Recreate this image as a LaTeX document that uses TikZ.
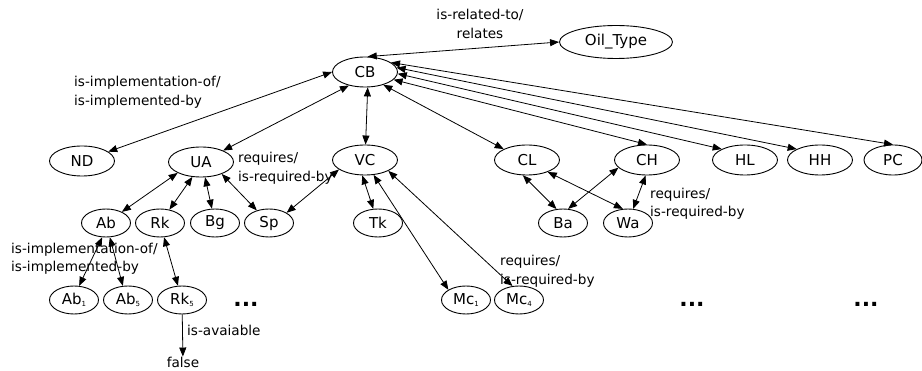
\documentclass[tikz,border=0pt]{standalone}
\usepackage{fontspec}
\setmainfont{DejaVu Sans}
\usetikzlibrary{arrows.meta,shapes.geometric}
\newcommand{\tinysub}[1]{\raisebox{-1.5pt}{\fontsize{7}{7}\selectfont #1}}
\tikzset{
  big/.style={ellipse,draw,line width=0.9pt,inner sep=0pt,minimum width=65pt,minimum height=30pt,font=\fontsize{15}{15}\selectfont},
  small/.style={ellipse,draw,line width=0.9pt,inner sep=0pt,minimum width=49pt,minimum height=28pt,font=\fontsize{15}{15}\selectfont},
  lbl/.style={inner sep=0pt,font=\fontsize{13.6}{18.5}\selectfont},
  dots/.style={inner sep=0pt,font=\fontsize{22}{22}\selectfont\bfseries},
  rel/.style={line width=0.8pt,{Triangle[length=9pt,width=7pt]}-{Triangle[length=9pt,width=7pt]}},
  onedir/.style={line width=0.8pt,-{Triangle[length=9pt,width=7pt]}}
}
\begin{document}
\begin{tikzpicture}[x=1pt,y=-1pt]
\useasboundingbox (0,0) rectangle (922,371);
% top
\node[big] (CB) at (365,72) {CB};
\node[big,minimum width=113pt,minimum height=33pt] (Oil) at (616,42) {Oil\_Type};
% row 1
\node[big] (ND) at (82,161) {ND};
\node[big] (UA) at (201,162) {UA};
\node[big] (VC) at (365,160) {VC};
\node[big] (CL) at (527,160) {CL};
\node[big] (CH) at (647,160) {CH};
\node[big] (HL) at (745,160) {HL};
\node[big] (HH) at (820,160) {HH};
\node[big,minimum width=58pt] (PC) at (893,160) {PC};
% row 2
\node[small] (Ab) at (106,223) {Ab};
\node[small] (Rk) at (160,223) {Rk};
\node[small] (Bg) at (215,223) {Bg};
\node[small] (Sp) at (269,223) {Sp};
\node[small] (Tk) at (378,223) {Tk};
\node[small] (Ba) at (563,223) {Ba};
\node[small] (Wa) at (628,223) {Wa};
% row 3
\node[small] (Ab1) at (74,300) {Ab\tinysub{1}};
\node[small] (Ab5) at (128,300) {Ab\tinysub{5}};
\node[small] (Rk5) at (182,300) {Rk\tinysub{5}};
\node[small] (Mc1) at (466,300) {Mc\tinysub{1}};
\node[small] (Mc4) at (519,300) {Mc\tinysub{4}};
\node[dots,anchor=base] (d1) at (246,307) {...};
\node[dots,anchor=base] (d2) at (692,307) {...};
\node[dots,anchor=base] (d3) at (866,307) {...};
\node[lbl] (false) at (183,362) {false};
% labels
\node[lbl,align=center] (l1) at (480,24) {is-related-to/\\relates};
\node[lbl,align=left,anchor=west] (l2) at (74,92.5) {is-implementation-of/\\is-implemented-by};
\node[lbl,align=left,anchor=west] (l3) at (238,168.5) {requires/\\is-required-by};
\node[lbl,align=left,anchor=west] (l4) at (11,259) {is-implementation-of/\\is-implemented-by};
\node[lbl,align=left,anchor=west] (l5) at (650,204) {requires/\\is-required-by};
\node[lbl,align=left,anchor=west] (l6) at (500,271) {requires/\\is-required-by};
\node[lbl,anchor=west] (l7) at (187,330) {is-avaiable};
% edges from CB
\draw[rel] (CB.80) -- (Oil.west);
\draw[rel] (CB.west) -- (ND);
\draw[rel] (CB.-140) -- (UA);
\draw[rel] (CB.-80) -- (VC);
\draw[rel] (CB.-35) -- (CL.north west);
\draw[rel] (CB.-15) -- (CH.north);
\draw[rel] (CB.-3) -- (HL.north west);
\draw[rel] (CB.8) -- (HH.north west);
\draw[rel] (CB.20) -- (PC.north);
% UA children
\draw[rel] (UA.-155) -- (Ab);
\draw[rel] (UA.-120) -- (Rk);
\draw[rel] (UA.-75) -- (Bg);
\draw[rel] (UA.-30) -- (Sp);
% VC children
\draw[rel] (VC.-160) -- (Sp.north east);
\draw[rel] (VC.-100) -- (Tk);
\draw[rel] (VC.-60) -- (Mc1.north west);
\draw[rel] (VC.-25) -- (Mc4.115);
% CL/CH children
\draw[rel] (CL.-105) -- (Ba.115);
\draw[rel] (CH.-165) -- (Ba.70);
\draw[rel] (CL.-30) -- (Wa.110);
\draw[rel] (CH.-95) -- (Wa.70);
% row 3
\draw[rel] (Ab.-105) -- (Ab1.70);
\draw[rel] (Ab.-75) -- (Ab5.110);
\draw[rel] (Rk) -- (Rk5);
\draw[onedir] (Rk5) -- (false);
\end{tikzpicture}
\end{document}
